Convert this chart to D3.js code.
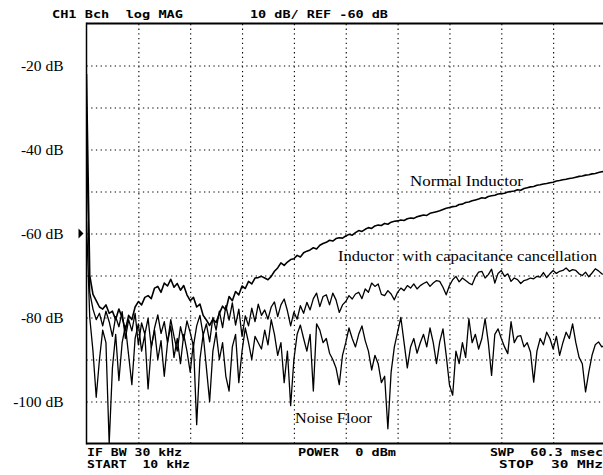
<!DOCTYPE html>
<html><head><meta charset="utf-8">
<script src="https://cdn.jsdelivr.net/npm/d3@7"></script>
<style>
html,body{margin:0;padding:0;background:#fff;overflow:hidden}
svg{display:block}
text.mono{white-space:pre}
</style></head>
<body>
<script>
// ---- data ----
const startMHz = 0.01, stopMHz = 30;
const yTickValues = [-20, -40, -60, -80, -100];
const gridDb = [-20, -30, -40, -50, -60, -70, -80, -90, -100];
const refLevel = -60;

const normalInductor = [-22,-70,-74.5,-76,-77.5,-78,-77,-79,-78.5,-80.5,-78,-80,-83,-79.5,-80.5,-77.5,-76.2,-77,-75.2,-74.8,
-75.5,-73,-72.6,-74,-71.8,-72.5,-70.9,-72.8,-71.9,-73.5,-72.4,-74.6,-76,-75.2,-77.5,-76.8,-79.5,-80.6,-81.9,-80.4,
-81.2,-79,-77.3,-78.2,-75,-76,-73.8,-74.6,-72.5,-73.1,-71.4,-72,-70.6,
-70.5,-70.2,-70.6,-71,-70.2,-69,-68.2,-67,-67.6,-66.8,-66.2,-66,-65.2,-65.6,-64.6,-64.2,-63.9,-63.4,-63.7,-62.8,
-62.4,-62.1,-61.6,-61.8,-61.2,-61,-61.1,-60.6,-60.2,-60.4,-59.8,-59.3,-59.5,-59,-58.6,-58.8,-58.2,-58,-58.1,-57.6,
-57.8,-57.3,-57.1,-57,-56.8,-56.9,-56.5,-56.3,-56.4,-56,-55.8,-55.6,-55.7,-55.2,-55,-54.8,-54.6,-54.3,-54,-53.8,
-53.6,-53.5,-53.1,-53,-52.6,-52.5,-52.2,-52,-51.8,-51.5,-51.6,-51.2,-51,-50.9,-50.6,-50.5,-50.4,-50.1,-50,-49.9,
-49.6,-49.7,-49.3,-49.1,-48.9,-48.8,-48.5,-48.4,-48.2,-48.1,-47.9,-47.8,-47.5,-47.4,-47.2,-47.1,-46.9,-46.8,-46.6,-46.4,
-46.3,-46.1,-46,-45.8,-45.7,-45.5,-45.3,-45.2];

const capCancellation = [-35,-74,-78,-80.5,-79,-82,-78.5,-81,-84.5,-79.8,-82.2,-78.6,-85,-80.5,-83.2,-79,-86.5,-81.3,-84,-80.2,
-87.2,-82.5,-79.4,-83.8,-81,-86,-80.5,-84.5,-88,-82.2,-85.4,-80.8,-83.6,-86.8,-82,-79.5,-84.2,-81.5,-85.8,-80,
-83,-78.5,-82.4,-77.2,-80.6,-76.5,-81.8,-78,-84.5,-79.6,-82,-77.8,-81,-76.8,-79.5,-78.2,-80.4,-77.5,-76.3,-79.8,
-77,-75.6,-78.4,-82,-78.7,-80.4,-77.2,-79,-76.4,-78.2,-75.5,-74.2,-77.4,-75,-74.6,-77,-74.2,-75.8,-78.8,-77,
-76.2,-74.8,-75.6,-74.4,-74,-75.5,-73.2,-74,-71.8,-72.6,-72,-74.5,-74.8,-73.6,-74.4,-75.8,-74,-73,-73.6,-72.4,
-73,-72,-73.2,-72.4,-71.9,-71.5,-72.6,-71.8,-71.2,-71.4,-72.8,-74.6,-72.4,-71,-70.2,-71.5,-70.6,-71.2,-71.8,-72.2,
-70.3,-69.2,-69,-70.6,-69.8,-68.5,-71.8,-69.5,-68.8,-70.2,-69.6,-71.4,-70.6,-71,-71.9,-71.2,-71,-70.6,-70.8,-70.2,
-70.4,-69.3,-70.5,-69.6,-68.8,-69.5,-69,-68.8,-68.2,-69,-68.6,-68.8,-69.6,-70,-69.2,-70.3,-69.4,-68.4,-68.9,-69.6,
-69.8];

const noiseFloor = [-57,-80,-88,-99,-90,-83,-86,-110,-92,-84,-95,-86,-82,-89,-96,-85,-81.5,-88,-84,-97,
-87,-83,-90,-85.5,-94,-86,-82,-89.5,-85,-91,-84,-88,-93,-86,-105.5,-90,-84,-92,-100,-88,
-83.5,-90,-86,-94,-97.5,-87,-84,-95.5,-88,-82.5,-86,-90,-84.5,-86,-87.5,-83,-86.5,-80.5,-84,-89,
-86,-95.5,-88,-101,-90,-84,-81.8,-85,-88,-84,-97.5,-81.5,-83,-86,-85,-88.5,-90,-92,-96,-89,
-86,-82.5,-85,-87,-84,-82,-85.5,-88,-92.5,-89,-91,-95.5,-94,-106.5,-93,-87,-83.5,-80,-86,-92,
-87,-85,-88.5,-86,-84,-87,-82.5,-86,-91,-85.8,-82.7,-89,-96,-98.5,-88,-91,-86,-89.5,-80.3,-86,
-84,-87.5,-85,-80.3,-86,-93.8,-84,-82.7,-85,-87,-88.6,-81,-86,-84.5,-84.3,-87,-86,-88.2,-95.4,-88,
-85,-86.5,-83.5,-85,-87.5,-84.5,-89,-86,-83.5,-85,-81.5,-86,-89.5,-91,-97.7,-93,-89,-86.5,-85.8,-87,
-86.6];

const headerLeft = "CH1 Bch  log MAG";
const headerMid = "10 dB/ REF -60 dB";
const footer = [
  {t:"IF BW 30 kHz", x:87, y:455.5, w:95},
  {t:"START  10 kHz", x:87, y:467.5, w:103},
  {t:"POWER  0 dBm", x:298, y:455.5, w:98},
  {t:"SWP  60.3 msec", x:490, y:455.5, w:113},
  {t:"STOP  30 MHz", x:499, y:467.5, w:104}
];
const annotations = [
  {t:"Normal Inductor", x:410, y:186, w:113},
  {t:"Inductor  with capacitance cancellation", x:338, y:261, w:259},
  {t:"Noise Floor", x:295, y:423, w:77}
];

// ---- layout ----
const W = 603, H = 475;
const L = 86.5, R = 605, T = 23.5, B = 443.5;

const svg = d3.select("body").append("svg").attr("width", W).attr("height", H);

const x = d3.scaleLinear().domain([startMHz, stopMHz]).range([L, R]);
const y = d3.scaleLinear().domain([-110, -10]).range([B, T]);

// grid
const xGridVals = d3.range(1, 10).map(k => startMHz + k * (stopMHz - startMHz) / 10);
const gx = svg.append("g").attr("transform", `translate(0,${B})`)
  .call(d3.axisBottom(x).tickValues(xGridVals).tickSize(-(B - T)).tickFormat(""));
gx.select(".domain").remove();
gx.selectAll("line").attr("stroke", "#000").attr("stroke-width", 1.1).attr("stroke-dasharray", "1.3,3.4");

const gy = svg.append("g").attr("transform", `translate(${L},0)`)
  .call(d3.axisLeft(y).tickValues(gridDb).tickSize(-(R - L)).tickFormat(""));
gy.select(".domain").remove();
gy.selectAll("line").attr("stroke", "#000").attr("stroke-width", 1.1).attr("stroke-dasharray", "1.3,3.4");

// y labels
const ya = svg.append("g").attr("transform", `translate(${L},0)`)
  .call(d3.axisLeft(y).tickValues(yTickValues).tickSize(0).tickPadding(23).tickFormat(d => d + " dB"));
ya.select(".domain").remove();
ya.selectAll("text").attr("font-family", "'Liberation Serif', 'Times New Roman', serif")
  .attr("font-size", 15.5).attr("fill", "#000");

// clip
svg.append("clipPath").attr("id", "clip").append("rect")
  .attr("x", L).attr("y", T).attr("width", R - L).attr("height", B - T);

function drawTrace(vals, sw) {
  const n = vals.length;
  const line = d3.line()
    .x((d, i) => x(startMHz + i * (stopMHz - startMHz) / (n - 1)))
    .y(d => y(d));
  svg.append("path").datum(vals).attr("clip-path", "url(#clip)")
    .attr("d", line).attr("fill", "none").attr("stroke", "#000")
    .attr("stroke-width", sw).attr("stroke-linejoin", "round");
}
drawTrace(noiseFloor, 1.3);
drawTrace(capCancellation, 1.3);
drawTrace(normalInductor, 1.6);

// border
svg.append("line").attr("x1", L).attr("x2", W).attr("y1", T).attr("y2", T).attr("stroke", "#000").attr("stroke-width", 2);
svg.append("line").attr("x1", L).attr("x2", W).attr("y1", B).attr("y2", B).attr("stroke", "#000").attr("stroke-width", 2);
svg.append("line").attr("x1", L).attr("x2", L).attr("y1", T - 1).attr("y2", B + 1).attr("stroke", "#000").attr("stroke-width", 1.5);

// reference marker
const ry = y(refLevel);
svg.append("path").attr("d", `M${L - 8},${ry - 5}L${L - 3},${ry}L${L - 8},${ry + 5}Z`).attr("fill", "#000");

// header / footer
const mono = "'DejaVu Sans Mono', 'Liberation Mono', monospace";
svg.append("text").attr("class", "mono").attr("x", 52).attr("y", 18).attr("textLength", 131).attr("lengthAdjust", "spacingAndGlyphs")
  .attr("font-family", mono).attr("font-weight", "bold").attr("font-size", 11).text(headerLeft);
svg.append("text").attr("class", "mono").attr("x", 250).attr("y", 18).attr("textLength", 138).attr("lengthAdjust", "spacingAndGlyphs")
  .attr("font-family", mono).attr("font-weight", "bold").attr("font-size", 11).text(headerMid);
svg.selectAll(".ft").data(footer).enter().append("text").attr("class", "mono")
  .attr("x", d => d.x).attr("y", d => d.y).attr("textLength", d => d.w).attr("lengthAdjust", "spacingAndGlyphs")
  .attr("font-family", mono).attr("font-weight", "bold").attr("font-size", 10).text(d => d.t);

// annotations
svg.selectAll(".an").data(annotations).enter().append("text").attr("class", "mono")
  .attr("x", d => d.x).attr("y", d => d.y).attr("textLength", d => d.w).attr("lengthAdjust", "spacingAndGlyphs")
  .attr("font-family", "'Liberation Serif', 'Times New Roman', serif").attr("font-size", 15)
  .attr("fill", "#000").text(d => d.t);
</script>
</body></html>
